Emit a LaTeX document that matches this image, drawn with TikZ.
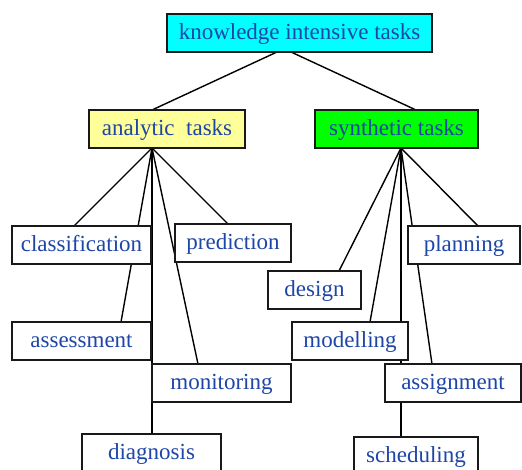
\documentclass[tikz,border=0pt]{standalone}
\usepackage{fontspec}
\setmainfont{Liberation Serif}
\definecolor{txtblue}{HTML}{1E45A8}
\definecolor{kcyan}{HTML}{00FFFF}
\definecolor{kyellow}{HTML}{FFFF99}
\definecolor{kgreen}{HTML}{00FF00}
\begin{document}
\begin{tikzpicture}[x=1pt,y=-1pt,
  box/.style={draw=black!90,line width=1.5pt,fill=white,inner sep=0pt,minimum height=38pt,text height=16pt,text depth=3pt,text=txtblue,font=\fontsize{23}{25}\selectfont},
  link/.style={line width=1.4pt,black}]
\useasboundingbox (0,0) rectangle (522,470);
\begin{scope}
\clip (0,0) rectangle (522,470);
% coordinates for connector ends
\coordinate (kL) at (277,52);
\coordinate (kR) at (291,52);
\coordinate (aT) at (152,110);
\coordinate (sT) at (416,110);
\coordinate (aH) at (152,148);
\coordinate (sH) at (401,148);
\coordinate (clsT) at (74,226);
\coordinate (assT) at (121,322);
\coordinate (diagT) at (152,434);
\coordinate (monT) at (198,364);
\coordinate (predT) at (228,224);
\coordinate (desT) at (339,271);
\coordinate (modT) at (370,322);
\coordinate (schT) at (401,437);
\coordinate (asgT) at (432,364);
\coordinate (plaT) at (478,226);
% connectors
\draw[link] (kL) -- (aT);
\draw[link] (kR) -- (sT);
\draw[link] (aH) -- (clsT);
\draw[link] (aH) -- (assT);
\draw[link] (aH) -- (diagT);
\draw[link] (aH) -- (monT);
\draw[link] (aH) -- (predT);
\draw[link] (sH) -- (desT);
\draw[link] (sH) -- (modT);
\draw[link] (sH) -- (schT);
\draw[link] (sH) -- (asgT);
\draw[link] (sH) -- (plaT);
% nodes
\node[box,fill=kcyan,minimum width=265pt] (kit) at (299.5,33) {knowledge intensive tasks};
\node[box,fill=kyellow,minimum width=156pt] (ana) at (167,129) {analytic\ \ tasks};
\node[box,fill=kgreen,minimum width=163pt] (syn) at (396.5,129) {synthetic tasks};
\node[box,minimum width=139pt] (cls) at (81.5,245) {classification};
\node[box,minimum width=116pt] (pred) at (233,243) {prediction};
\node[box,minimum width=139pt] (ass) at (81.5,341) {assessment};
\node[box,minimum width=139pt] (mon) at (221.5,383) {monitoring};
\node[box,minimum width=139pt] (diag) at (151.5,453) {diagnosis};
\node[box,minimum width=93pt] (des) at (314.5,290) {design};
\node[box,minimum width=116pt] (mod) at (350,341) {modelling};
\node[box,minimum width=112pt] (pla) at (464,245) {planning};
\node[box,minimum width=136pt] (asg) at (453,383) {assignment};
\node[box,minimum width=124pt] (sch) at (416,456) {scheduling};
\end{scope}
\end{tikzpicture}
\end{document}
